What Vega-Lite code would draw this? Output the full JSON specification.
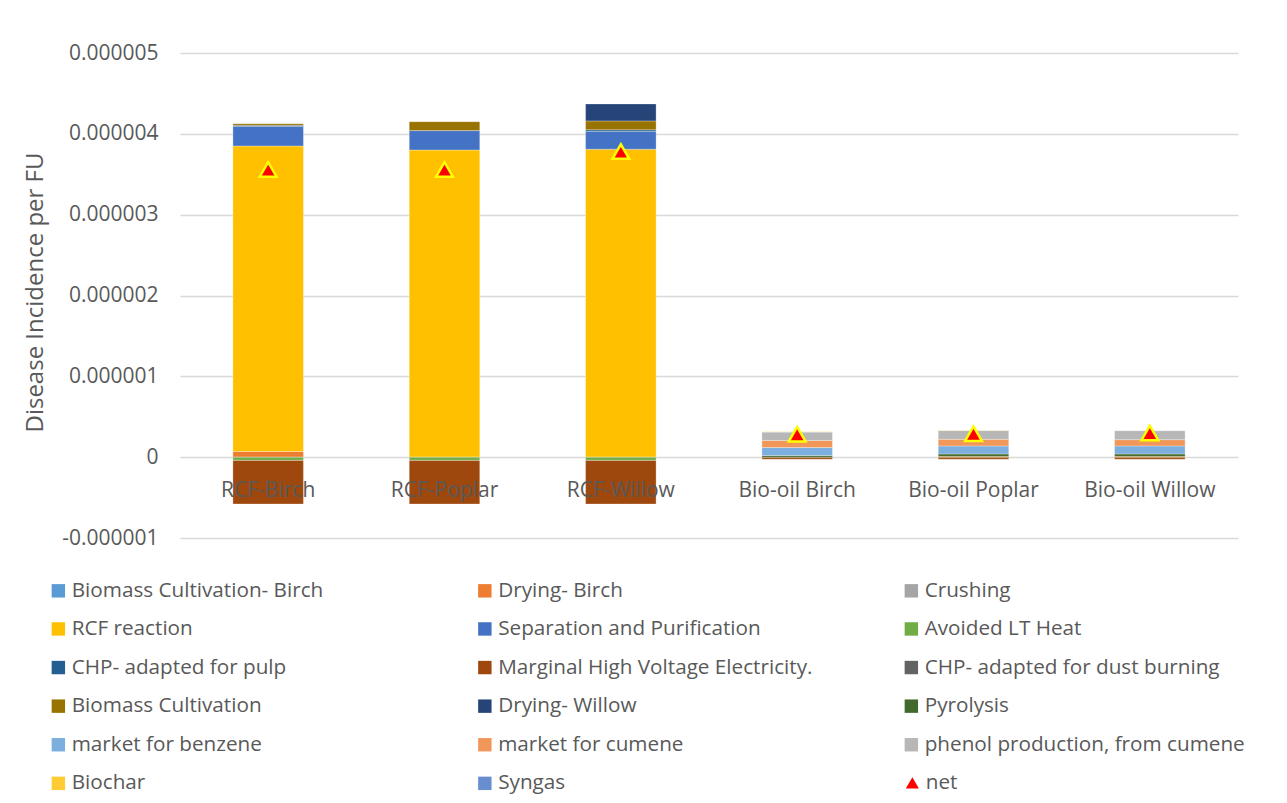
{
  "$schema": "https://vega.github.io/schema/vega-lite/v6.json",
  "autosize": {"type": "none"},
  "width": 1058,
  "height": 485,
  "padding": {"left": 180, "top": 53, "right": 49, "bottom": 265},
  "background": "white",
  "config": {
    "font": "Open Sans",
    "view": {"stroke": null},
    "axis": {"labelFont": "Open Sans", "titleFont": "Open Sans", "labelColor": "#595959", "titleColor": "#595959"},
    "legend": {
      "title": null, "orient": "none",
      "gridAlign": "all", "columnPadding": 82.5, "rowPadding": 16.6,
      "labelFontSize": 20.7, "labelColor": "#595959", "labelFont": "Open Sans", "labelOffset": 3,
      "symbolSize": 180, "labelLimit": 400
    }
  },
  "data": {"values": [
    {"cat": "RCF-Birch", "series": "Drying- Birch", "idx": 2, "value": 0.00000007},
    {"cat": "RCF-Birch", "series": "RCF reaction", "idx": 4, "value": 0.00000378},
    {"cat": "RCF-Birch", "series": "Separation and Purification", "idx": 5, "value": 0.00000024},
    {"cat": "RCF-Birch", "series": "Avoided LT Heat", "idx": 6, "value": -0.00000004},
    {"cat": "RCF-Birch", "series": "CHP- adapted for pulp", "idx": 7, "value": 0.000000015},
    {"cat": "RCF-Birch", "series": "Marginal High Voltage Electricity.", "idx": 8, "value": -0.00000054},
    {"cat": "RCF-Birch", "series": "Biomass Cultivation", "idx": 10, "value": 0.00000002},
    {"cat": "RCF-Poplar", "series": "RCF reaction", "idx": 4, "value": 0.0000038},
    {"cat": "RCF-Poplar", "series": "Separation and Purification", "idx": 5, "value": 0.00000024},
    {"cat": "RCF-Poplar", "series": "Avoided LT Heat", "idx": 6, "value": -0.00000004},
    {"cat": "RCF-Poplar", "series": "Marginal High Voltage Electricity.", "idx": 8, "value": -0.00000054},
    {"cat": "RCF-Poplar", "series": "Biomass Cultivation", "idx": 10, "value": 0.00000011},
    {"cat": "RCF-Willow", "series": "RCF reaction", "idx": 4, "value": 0.00000381},
    {"cat": "RCF-Willow", "series": "Separation and Purification", "idx": 5, "value": 0.00000022},
    {"cat": "RCF-Willow", "series": "Avoided LT Heat", "idx": 6, "value": -0.00000004},
    {"cat": "RCF-Willow", "series": "CHP- adapted for pulp", "idx": 7, "value": 0.00000002},
    {"cat": "RCF-Willow", "series": "Marginal High Voltage Electricity.", "idx": 8, "value": -0.00000054},
    {"cat": "RCF-Willow", "series": "Biomass Cultivation", "idx": 10, "value": 0.00000011},
    {"cat": "RCF-Willow", "series": "Drying- Willow", "idx": 11, "value": 0.00000021},
    {"cat": "Bio-oil Birch", "series": "Marginal High Voltage Electricity.", "idx": 8, "value": -0.000000025},
    {"cat": "Bio-oil Birch", "series": "Pyrolysis", "idx": 12, "value": 0.00000002},
    {"cat": "Bio-oil Birch", "series": "market for benzene", "idx": 13, "value": 0.000000099},
    {"cat": "Bio-oil Birch", "series": "market for cumene", "idx": 14, "value": 0.000000087},
    {"cat": "Bio-oil Birch", "series": "phenol production, from cumene", "idx": 15, "value": 0.000000104},
    {"cat": "Bio-oil Birch", "series": "Biochar", "idx": 16, "value": 0.000000004},
    {"cat": "Bio-oil Poplar", "series": "Marginal High Voltage Electricity.", "idx": 8, "value": -0.000000025},
    {"cat": "Bio-oil Poplar", "series": "Biomass Cultivation", "idx": 10, "value": 0.00000001},
    {"cat": "Bio-oil Poplar", "series": "Pyrolysis", "idx": 12, "value": 0.00000003},
    {"cat": "Bio-oil Poplar", "series": "market for benzene", "idx": 13, "value": 0.000000099},
    {"cat": "Bio-oil Poplar", "series": "market for cumene", "idx": 14, "value": 0.000000082},
    {"cat": "Bio-oil Poplar", "series": "phenol production, from cumene", "idx": 15, "value": 0.000000108},
    {"cat": "Bio-oil Poplar", "series": "Biochar", "idx": 16, "value": 0.000000004},
    {"cat": "Bio-oil Willow", "series": "Marginal High Voltage Electricity.", "idx": 8, "value": -0.000000025},
    {"cat": "Bio-oil Willow", "series": "Biomass Cultivation", "idx": 10, "value": 0.00000001},
    {"cat": "Bio-oil Willow", "series": "Pyrolysis", "idx": 12, "value": 0.00000003},
    {"cat": "Bio-oil Willow", "series": "market for benzene", "idx": 13, "value": 0.000000099},
    {"cat": "Bio-oil Willow", "series": "market for cumene", "idx": 14, "value": 0.000000078},
    {"cat": "Bio-oil Willow", "series": "phenol production, from cumene", "idx": 15, "value": 0.00000011},
    {"cat": "RCF-Birch", "series": "net", "idx": 18, "value": 0.00000356},
    {"cat": "RCF-Poplar", "series": "net", "idx": 18, "value": 0.00000356},
    {"cat": "RCF-Willow", "series": "net", "idx": 18, "value": 0.00000378},
    {"cat": "Bio-oil Birch", "series": "net", "idx": 18, "value": 0.000000285},
    {"cat": "Bio-oil Poplar", "series": "net", "idx": 18, "value": 0.00000029},
    {"cat": "Bio-oil Willow", "series": "net", "idx": 18, "value": 0.0000003}
  ]},
  "encoding": {
    "x": {
      "field": "cat", "type": "nominal", "sort": null,
      "scale": {"paddingInner": 0.6, "paddingOuter": 0.3},
      "axis": {"title": null, "labelAngle": 0, "offset": -81, "labelPadding": 22, "ticks": false, "domain": false, "labelFontSize": 21, "zindex": 1}
    },
    "y": {
      "field": "value", "type": "quantitative",
      "scale": {"domain": [-0.000001, 0.000005], "nice": false, "zero": false},
      "axis": {
        "title": "Disease Incidence per FU", "titleFontSize": 24, "titleFontWeight": "normal",
        "titleX": -145, "titleY": 239, "titleAngle": -90, "titleBaseline": "middle", "titleAlign": "center",
        "values": [-0.000001, 0, 0.000001, 0.000002, 0.000003, 0.000004, 0.000005],
        "labelExpr": "datum.value == 0 ? '0' : (datum.value < 0 ? '-' + format(-datum.value, '.6f') : format(datum.value, '.6f'))",
        "labelFontSize": 21, "labelPadding": 22, "ticks": false, "domain": false,
        "grid": true, "gridColor": "#d9d9d9", "gridWidth": 1.5
      }
    }
  },
  "layer": [
    {
      "transform": [{"filter": "datum.series != 'net'"}],
      "mark": {"type": "bar", "stroke": "white", "strokeWidth": 0.5, "strokeOpacity": 0.6},
      "encoding": {
        "y": {"field": "value", "type": "quantitative", "stack": "zero"},
        "order": {"field": "idx", "type": "quantitative", "sort": "ascending"},
        "color": {"field": "series", "type": "nominal",
          "scale": {
            "domain": ["Biomass Cultivation- Birch", "RCF reaction", "CHP- adapted for pulp", "Biomass Cultivation", "market for benzene", "Biochar", "Drying- Birch", "Separation and Purification", "Marginal High Voltage Electricity.", "Drying- Willow", "market for cumene", "Syngas", "Crushing", "Avoided LT Heat", "CHP- adapted for dust burning", "Pyrolysis", "phenol production, from cumene"],
            "range": ["#5B9BD5", "#FFC000", "#255E91", "#997300", "#7CAFDD", "#FFCD33", "#ED7D31", "#4472C4", "#9E480E", "#264478", "#F1975A", "#698ED0", "#A5A5A5", "#70AD47", "#636363", "#43682B", "#B7B7B7"]
          },
          "legend": {"columns": 3, "legendX": -132, "legendY": 527, "symbolType": "square", "symbolStrokeWidth": 0}
        }
      }
    },
    {
      "transform": [{"filter": "datum.series == 'net'"}],
      "mark": {"type": "point", "filled": true, "fill": "#FF0000", "color": "#FF0000", "size": 280, "stroke": "#FFFF00", "strokeWidth": 2.5, "opacity": 1},
      "encoding": {
        "shape": {"field": "series", "type": "nominal",
          "scale": {"domain": ["net"], "range": ["triangle-up"]},
          "legend": {
            "legendX": 722, "legendY": 719.5, "symbolFillColor": "#FF0000", "symbolStrokeColor": "#FFFF00", "symbolStrokeWidth": 2.2, "symbolSize": 170, "symbolOpacity": 1,
            "encode": {"symbols": {"stroke": {"value": "#FFFF00"}, "strokeWidth": {"value": 2.2}, "fill": {"value": "#FF0000"}}}
          }
        }
      }
    }
  ]
}
